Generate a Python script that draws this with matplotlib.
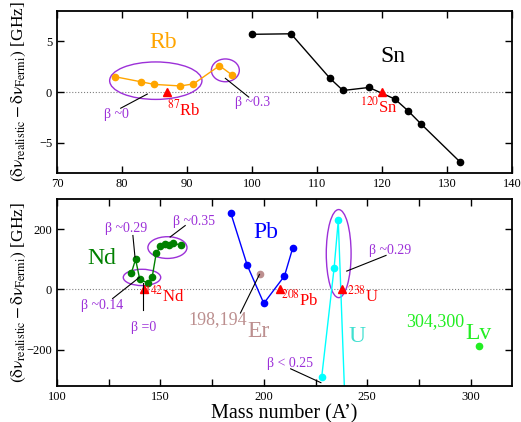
import matplotlib
matplotlib.use("Agg")
from matplotlib import pyplot as plt
from matplotlib.patches import Ellipse

plt.rcParams['font.family'] = ['Liberation Serif', 'DejaVu Serif']
plt.rcParams['mathtext.fontset'] = 'stix'

# top panel: Rb and Sn
rbA = [79, 83, 85, 89, 91, 95, 97]
rbVal = [1.5, 1.0, 0.75, 0.6, 0.8, 2.6, 1.65]
snA = [100, 106, 112, 114, 118, 122, 124, 126, 132]
snVal = [5.7, 5.75, 1.35, 0.15, 0.45, -0.7, -1.85, -3.15, -6.9]
refTop = [87, 120]

# bottom panel: Nd, Pb, Er, U, Lv
ndA = [136, 138, 140, 144, 146, 148, 150, 152, 154, 156, 160]
ndVal = [56, 100, 34, 21, 40, 121, 143, 150, 149, 155, 146]
pbA = [184, 192, 200, 210, 214]
pbVal = [254, 80, -46, 45, 138]
erA = [198]
erVal = [50]
uA = [228, 234, 236, 240]
uVal = [-290, 72, 229, -520]
lvA = [304]
lvVal = [-187]
refBot = [142, 208, 238]

purple = '#9c30d8'
ylab = r'$(\mathrm{\delta\nu}_{\rm realistic} - \mathrm{\delta\nu}_{\rm Fermi})$ [GHz]'

fig = plt.figure(figsize=(5.21, 4.22), dpi=100)
ax1 = fig.add_axes([0.1094, 0.590, 0.8733, 0.3839])
ax2 = fig.add_axes([0.1094, 0.0853, 0.8733, 0.4431])

for ax in (ax1, ax2):
    ax.tick_params(direction='in', top=True, right=True, labelsize=9, length=5, width=1)
    ax.tick_params(which='minor', direction='in', top=True, right=True, length=5, width=1)
    for s in ax.spines.values():
        s.set_linewidth(1.3)
    ax.axhline(0, color='gray', ls=':', lw=0.8, zorder=0)
    ax.set_ylabel(ylab, fontsize=12.5)
    ax.yaxis.set_label_coords(-0.064, 0.5)

# ---- top
ax1.plot(rbA, rbVal, '-o', color='orange', ms=4.5, lw=1)
ax1.plot(snA, snVal, '-o', color='black', ms=4.5, lw=1)
ax1.plot(refTop, [0, 0], '^', color='red', ms=6, ls='none')
ax1.set_xlim(70, 140)
ax1.set_ylim(-8, 8)
ax1.set_xticks(range(70, 141, 10))
ax1.set_yticks([-5, 0, 5])

ax1.add_patch(Ellipse((85.2, 1.12), 14.2, 3.7, fill=False, ec=purple, lw=1))
ax1.add_patch(Ellipse((95.9, 2.14), 4.3, 2.25, fill=False, ec=purple, lw=1))
ax1.plot([79.8, 83.9], [-1.6, -0.2], color='black', lw=0.8)
ax1.plot([99.5, 95.9], [-0.5, 1.35], color='black', lw=0.8)
ax1.text(79.2, -2.26, 'β ~0', color=purple, fontsize=10, ha='center', va='center')
ax1.text(97.4, -1.0, 'β ~0.3', color=purple, fontsize=10, ha='left', va='center')
ax1.text(86.3, 4.9, 'Rb', color='orange', fontsize=17, ha='center', va='center')
ax1.text(121.7, 3.5, 'Sn', color='black', fontsize=17, ha='center', va='center')
ax1.text(87.0, -1.7, r'$^{87}$Rb', color='red', fontsize=12, ha='left', va='center')
ax1.text(116.6, -1.4, r'$^{120}$Sn', color='red', fontsize=12, ha='left', va='center')

# ---- bottom
ax2.plot(ndA, ndVal, '-o', color='green', ms=4.5, lw=1)
ax2.plot(pbA, pbVal, '-o', color='blue', ms=4.5, lw=1)
ax2.plot(erA, erVal, 'o', color='#bc8f8f', ms=4.5)
ax2.plot(uA, uVal, '-o', color='cyan', ms=4.5, lw=1)
ax2.plot(lvA, lvVal, 'o', color='#22ee22', ms=4.5)
ax2.plot(refBot, [0, 0, 0], '^', color='red', ms=6, ls='none')
ax2.set_xlim(100, 320)
ax2.set_ylim(-320, 300)
ax2.set_xticks([100, 150, 200, 250, 300])
ax2.set_xticks([125, 175, 225, 275], minor=True)
ax2.set_yticks([-200, 0, 200])
ax2.set_xlabel('Mass number (A\u2019)', fontsize=14.5, labelpad=1)

ax2.add_patch(Ellipse((141.1, 40), 18.1, 54, fill=False, ec=purple, lw=1))
ax2.add_patch(Ellipse((153.4, 139), 18.9, 72, fill=False, ec=purple, lw=1))
ax2.add_patch(Ellipse((236.2, 119), 12, 292, fill=False, ec=purple, lw=1))

ax2.plot([136.7, 137.7], [179, 108], color='black', lw=0.8)
ax2.plot([126.9, 139.8], [-30, 40], color='black', lw=0.8)
ax2.plot([141.7, 141.7], [22, -68], color='black', lw=0.8)
ax2.plot([162, 154.7], [212, 174], color='black', lw=0.8)
ax2.plot([259.1, 240.1], [113, 61], color='black', lw=0.8)
ax2.plot([213, 227.6], [-263, -309], color='black', lw=0.8)
ax2.plot([197.9, 188.7], [50, -78], color='black', lw=0.8)

ax2.text(133.3, 203, 'β ~0.29', color=purple, fontsize=10, ha='center', va='center')
ax2.text(121.7, -52, 'β ~0.14', color=purple, fontsize=10, ha='center', va='center')
ax2.text(142.1, -125, 'β =0', color=purple, fontsize=10, ha='center', va='center')
ax2.text(166.2, 226, 'β ~0.35', color=purple, fontsize=10, ha='center', va='center')
ax2.text(260.9, 130, 'β ~0.29', color=purple, fontsize=10, ha='center', va='center')
ax2.text(212.5, -247, 'β < 0.25', color=purple, fontsize=10, ha='center', va='center')

ax2.text(121.6, 102, 'Nd', color='green', fontsize=17, ha='center', va='center')
ax2.text(200.8, 190, 'Pb', color='blue', fontsize=17, ha='center', va='center')
ax2.text(245.2, -156, 'U', color='#40e0d0', fontsize=17, ha='center', va='center')
ax2.text(304, -146, 'Lv', color='#22ee22', fontsize=17, ha='center', va='center')
ax2.text(296.9, -105, '304,300', color='#22ee22', fontsize=13, ha='right', va='center')
ax2.text(192.1, -100, '198,194', color='#bc8f8f', fontsize=13, ha='right', va='center')
ax2.text(197.2, -138, 'Er', color='#bc8f8f', fontsize=17, ha='center', va='center')
ax2.text(142.1, -20, r'$^{142}$Nd', color='red', fontsize=12, ha='left', va='center')
ax2.text(208.1, -32, r'$^{208}$Pb', color='red', fontsize=12, ha='left', va='center')
ax2.text(240.1, -20, r'$^{238}$U', color='red', fontsize=12, ha='left', va='center')

fig.savefig('out.png', dpi=100)
